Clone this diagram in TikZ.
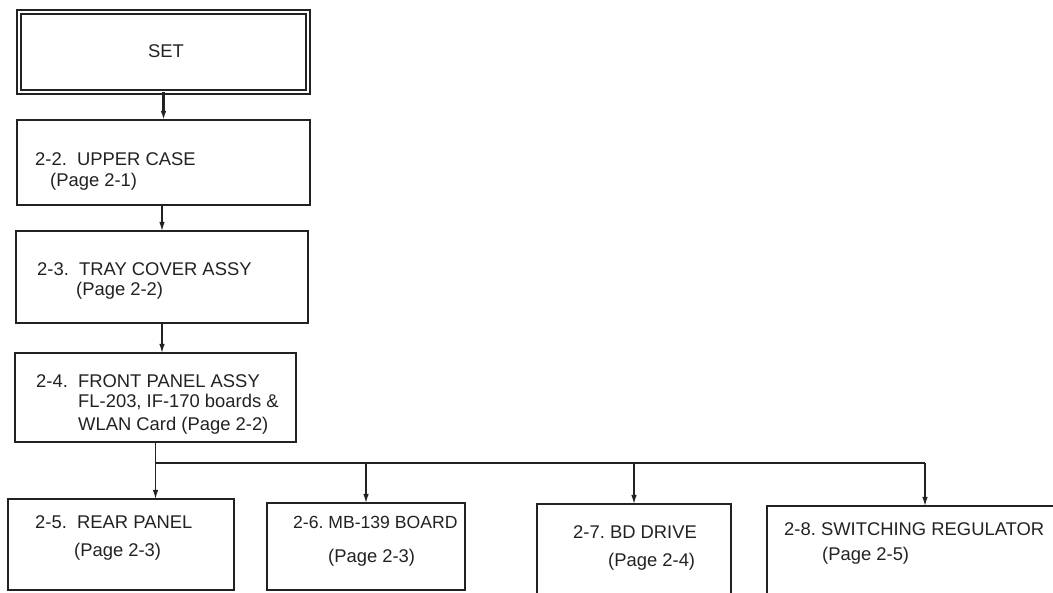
\documentclass[tikz,border=0pt]{standalone}
\usepackage{fontspec}
\setmainfont{Liberation Sans}
\usetikzlibrary{arrows.meta}
\definecolor{ManualInk}{HTML}{222222}

\begin{document}
\begin{tikzpicture}[x=1pt,y=-1pt,
    box/.style={draw=ManualInk,line width=2.3pt,inner sep=0pt,outer sep=0pt},
    lbl/.style={anchor=base west,inner sep=0pt,text=ManualInk,font=\fontsize{18.4}{22}\selectfont},
    link/.style={draw=ManualInk,line width=1.3pt,-{Latex[length=9pt,width=5.5pt]}}]
  \clip (0,0) rectangle (1053,593);
  \fill[white] (0,0) rectangle (1053,593);
  % boxes
  \node[box,double=white,double distance=2pt,line width=2.2pt,
        minimum width=289,minimum height=80] (set) at (163.5,52) {};
  \node[box,minimum width=293,minimum height=85] (upper) at (163.5,162.5) {};
  \node[box,minimum width=292,minimum height=92] (tray) at (162,277) {};
  \node[box,minimum width=281,minimum height=89] (front) at (155.5,397.5) {};
  \node[box,minimum width=226,minimum height=91] (rear) at (121,544.5) {};
  \node[box,minimum width=198,minimum height=87] (mb) at (366,546.5) {};
  \node[box,minimum width=194,minimum height=106] (bd) at (634,557) {};
  \node[box,minimum width=316,minimum height=104] (sw) at (925,558) {};
  % labels
  \node[lbl,anchor=base] (tset) at (166,58) {SET};
  \node[lbl] (tupper) at (35,166) {2-2.\ \ UPPER CASE};
  \node[lbl] (pupper) at (50,187) {(Page 2-1)};
  \node[lbl] (ttray) at (37,276) {2-3.\ \ TRAY COVER ASSY};
  \node[lbl] (ptray) at (76,296) {(Page 2-2)};
  \node[lbl] (tfront) at (36,388) {2-4.\ \ FRONT PANEL ASSY};
  \node[lbl] (ufront) at (78,408) {FL-203, IF-170 boards \&};
  \node[lbl] (pfront) at (78,431) {WLAN Card (Page 2-2)};
  \node[lbl] (trear) at (35,529) {2-5.\ \ REAR PANEL};
  \node[lbl] (prear) at (74,556) {(Page 2-3)};
  \node[lbl,font=\fontsize{17.6}{22}\selectfont] (tmb) at (293,529) {2-6.\ MB-139 BOARD};
  \node[lbl] (pmb) at (328,562) {(Page 2-3)};
  \node[lbl] (tbd) at (573,539) {2-7.\ BD DRIVE};
  \node[lbl] (pbd) at (608,566) {(Page 2-4)};
  \node[lbl] (tsw) at (784,536) {2-8.\ SWITCHING REGULATOR};
  \node[lbl] (psw) at (822,561) {(Page 2-5)};
  % connectors
  \draw[link,line width=2.6pt] (set.south) -- (upper.north);
  \draw[link] (tray.north |- upper.south) -- (tray.north);
  \draw[link] (tray.south) -- (tray.south |- front.north);
  \coordinate (bus) at (0,463);
  \draw[link] (front.south) -- (front.south |- rear.north);
  \draw[ManualInk,line width=1.3pt] (front.south |- bus) -- (sw.north |- bus);
  \foreach \n in {mb,bd,sw}
    \draw[link] (\n.north |- bus) -- (\n.north);
\end{tikzpicture}
\end{document}
